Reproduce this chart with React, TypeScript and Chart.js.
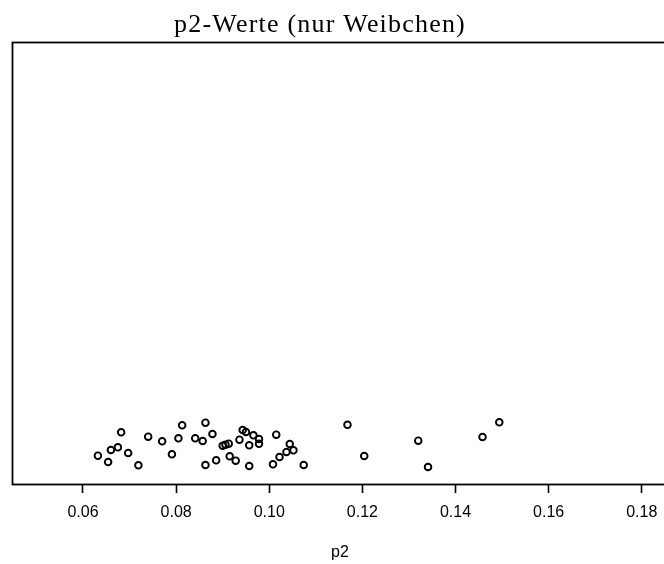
import React, { useEffect, useRef } from "react";
import { Chart, registerables } from "chart.js";

Chart.register(...registerables);

// p2 values for the females, one entry per animal
const p2Values = [
  0.0632, 0.0654, 0.066, 0.0675, 0.0682, 0.0697, 0.0719, 0.074, 0.077, 0.0791,
  0.0805, 0.0813, 0.0841, 0.0857, 0.0863, 0.0878, 0.0863, 0.0886, 0.09, 0.0906,
  0.0913, 0.0915, 0.0928, 0.0936, 0.0943, 0.095, 0.0957, 0.0957, 0.0966, 0.0978,
  0.0978, 0.1015, 0.1008, 0.1022, 0.1037, 0.1044, 0.1052, 0.1074, 0.1168, 0.1204,
  0.132, 0.1341, 0.1458, 0.1494,
];

// vertical jitter of each point (strip chart offset, 0–100 of the plot height)
const jitter = [
  6.4, 4.98, 7.69, 8.3, 11.7, 7.01, 4.23, 10.7, 9.66, 6.72,
  10.34, 13.28, 10.34, 9.73, 13.87, 11.31, 4.3, 5.36, 8.67, 8.89,
  9.12, 6.27, 5.27, 10.02, 12.22, 11.76, 8.76, 4.07, 11.02, 10.18,
  9.12, 11.15, 4.46, 6.11, 7.24, 9.05, 7.62, 4.3, 13.39, 6.33,
  9.8, 3.85, 10.63, 13.96,
];

const xTicks = [0.06, 0.08, 0.1, 0.12, 0.14, 0.16, 0.18];
const xMin = 0.044757;
const xMax = 0.19246;

const titleText = "p2-Werte (nur Weibchen)";
const xLabelText = "p2";

const framePlugin = {
  id: "frameAndLabels",
  afterDraw(chart: any) {
    const { ctx, chartArea } = chart;
    ctx.save();
    // plot box
    ctx.strokeStyle = "#000";
    ctx.lineWidth = 1.8;
    ctx.strokeRect(
      Math.round(chartArea.left) + 0.5,
      Math.round(chartArea.top) + 0.5,
      Math.round(chartArea.right - chartArea.left),
      Math.round(chartArea.bottom - chartArea.top)
    );
    // main title
    ctx.fillStyle = "#000";
    ctx.font = '26px "Liberation Serif"';
    (ctx as any).letterSpacing = "1.2px";
    ctx.textAlign = "center";
    ctx.textBaseline = "alphabetic";
    ctx.fillText(titleText, 320, 32);
    // axis label
    (ctx as any).letterSpacing = "0px";
    ctx.font = '16px "Liberation Sans"';
    ctx.fillText(xLabelText, 340, 557);
    ctx.restore();
  },
};

export default function App() {
  const canvasRef = useRef<HTMLCanvasElement | null>(null);

  useEffect(() => {
    const canvas = canvasRef.current;
    if (!canvas) return;
    const points = p2Values.map((v, i) => ({ x: v, y: jitter[i] }));
    const chart = new Chart(canvas, {
      type: "scatter",
      data: {
        datasets: [
          {
            data: points,
            pointStyle: "circle",
            pointRadius: 3.3,
            pointHoverRadius: 3.3,
            borderWidth: 1.9,
            borderColor: "#000",
            backgroundColor: "rgba(0,0,0,0)",
          },
        ],
      },
      plugins: [framePlugin],
      options: {
        animation: false,
        responsive: false,
        devicePixelRatio: 1,
        layout: { padding: { left: 12, top: 42, right: 0, bottom: 0 } },
        plugins: {
          legend: { display: false },
          title: { display: false },
          tooltip: { enabled: false },
        },
        scales: {
          x: {
            type: "linear",
            min: xMin,
            max: xMax,
            afterFit: (scale: any) => {
              scale.height = 80;
              scale.paddingLeft = 0;
              scale.paddingRight = 0;
            },
            afterBuildTicks: (scale: any) => {
              scale.ticks = xTicks.map((v) => ({ value: v }));
            },
            border: { display: false },
            grid: {
              display: true,
              drawOnChartArea: false,
              drawTicks: true,
              tickLength: 9,
              tickColor: "#000",
              tickWidth: 1.6,
              color: "#000",
            },
            ticks: {
              color: "#000",
              padding: 10,
              maxRotation: 0,
              autoSkip: false,
              font: { family: "Liberation Sans", size: 16 },
              callback: (v: any) => Number(v).toFixed(2),
            },
          },
          y: {
            display: false,
            min: 0,
            max: 100,
          },
        },
      },
    });
    return () => chart.destroy();
  }, []);

  return (
    <div
      style={{
        position: "fixed",
        left: 0,
        top: 0,
        width: 664,
        height: 564,
        overflow: "hidden",
        background: "#fff",
      }}
    >
      <canvas
        ref={canvasRef}
        width={705}
        height={564}
        style={{ display: "block", width: 705, height: 564 }}
      />
    </div>
  );
}
